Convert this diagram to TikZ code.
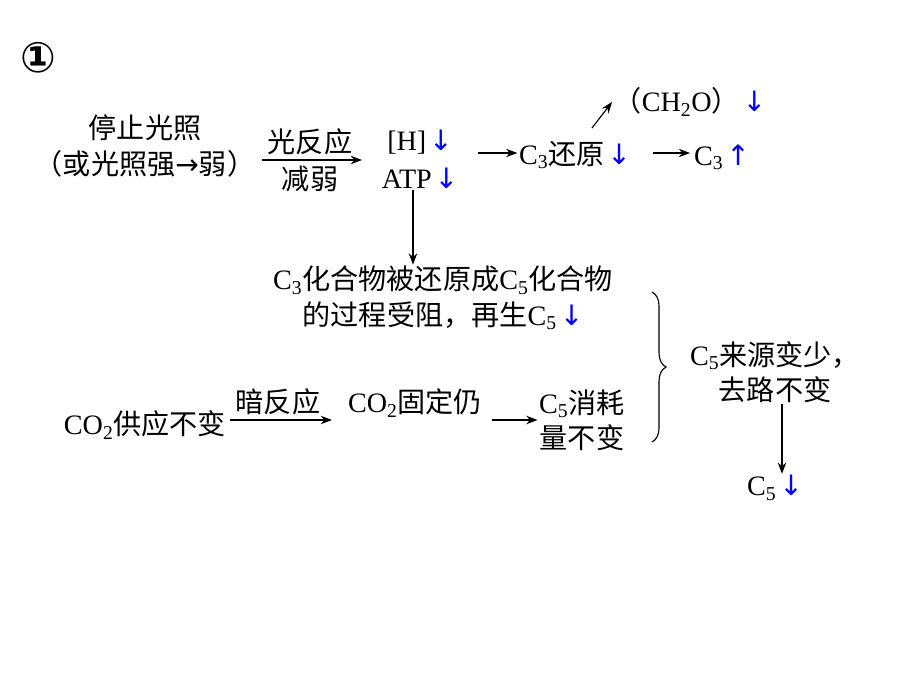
\documentclass[tikz,border=0pt]{standalone}
\usepackage{fontspec}
\setmainfont{Liberation Serif}
\newfontfamily\cjk{Noto Sans CJK SC}
\newfontfamily\sym{DejaVu Sans}
\usetikzlibrary{decorations.pathreplacing,arrows.meta}
\newcommand{\dn}{{\sym\color{blue}\kern2pt↓}}
\newcommand{\up}{{\sym\color{blue}\kern2pt↑}}
\newcommand{\sub}[1]{\textsubscript{#1}}
\begin{document}
\begin{tikzpicture}[x=0.025cm,y=-0.025cm]
\tikzstyle{txt} = [inner sep=1pt,font=\fontsize{20}{25}\selectfont]
\tikzstyle{arr} = [-{Stealth[length=8pt,width=6pt]},thick]
\useasboundingbox (0,0) rectangle (920,690);
\node[font=\fontsize{30}{34}\selectfont\bfseries\sym] (num) at (38,58) {①};
\node[txt,align=center] (stop) at (145,146) {{\cjk 停止光照}\\{\cjk （或光照强}{\sym→}{\cjk 弱）}};
\node[txt] (lr) at (310,142) {\cjk 光反应};
\node[txt] (lrw) at (310,179) {\cjk 减弱};
\coordinate (a1s) at (262,160);
\coordinate (a1e) at (362,160);
\draw[arr] (a1s) -- (a1e);
\node[txt] (h) at (420,142) {[H]\dn};
\node[txt] (atp) at (420,178) {ATP\dn};
\node[txt] (c3r) at (575,155) {C\sub{3}{\cjk 还原}\dn};
\node[txt] (ch2o) at (690,102) {{\cjk （}CH\sub{2}O{\cjk ）}\dn};
\node[txt] (c3) at (722,157) {C\sub{3}\up};
\coordinate (a2s) at (478,153);
\draw[arr] (a2s) -- (a2s -| c3r.west);
\draw[arr] (592,128) -- (ch2o.west);
\draw[arr] (653,153) -- (690,153);
\node[txt,align=center] (block) at (443,298) {C\sub{3}{\cjk 化合物被还原成}C\sub{5}{\cjk 化合物}\\{\cjk 的过程受阻，再生}C\sub{5}\dn};
\draw[arr] (atp.south -| 413,0) -- (block.north -| 413,0);
\node[txt] (co2) at (145,425) {CO\sub{2}{\cjk 供应不变}};
\node[txt] (dr) at (278,402) {\cjk 暗反应};
\draw[arr] (230,420) -- (332,420);
\node[txt] (fix) at (415,403) {CO\sub{2}{\cjk 固定仍}};
\node[txt,align=center] (use) at (582,420) {C\sub{5}{\cjk 消耗}\\{\cjk 量不变}};
\draw[arr] (492,420) -- (use.west |- 0,420);
\draw[thick,decorate,decoration={brace,amplitude=10pt}] (652,292) -- (652,442);
\node[txt,align=center] (src) at (775,372) {C\sub{5}{\cjk 来源变少，}\\{\cjk 去路不变}};
\node[txt] (c5) at (775,488) {C\sub{5}\dn};
\draw[arr] (src.south -| 782,0) -- (c5.north -| 782,0);
\end{tikzpicture}
\end{document}
